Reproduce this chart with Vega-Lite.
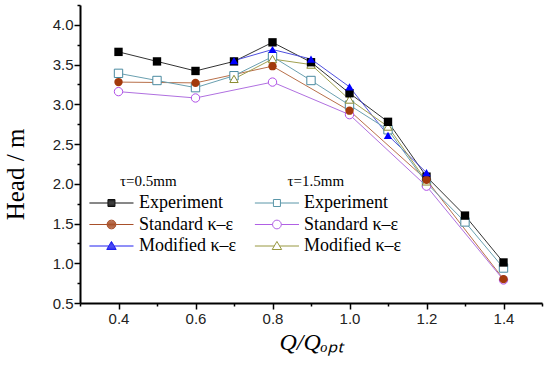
{
  "$schema": "https://vega.github.io/schema/vega-lite/v6.json",
  "width": 462,
  "height": 298,
  "autosize": {"type": "none"},
  "padding": {"left": 80, "top": 5, "right": 8, "bottom": 66},
  "background": "white",
  "config": {
    "view": {"stroke": null},
    "axis": {
      "grid": false,
      "domainColor": "black",
      "domainWidth": 2,
      "tickColor": "black",
      "tickWidth": 1.5,
      "labelFont": "Liberation Sans",
      "labelFontSize": 15,
      "labelColor": "#222222",
      "titleFont": "Liberation Serif",
      "titleFontWeight": "normal",
      "titleColor": "black"
    },
    "legend": {
      "orient": "none",
      "padding": 0,
      "titleFont": "Liberation Serif",
      "titleFontSize": 15,
      "titleFontWeight": "normal",
      "titleColor": "black",
      "titlePadding": 5,
      "labelFont": "Liberation Serif",
      "labelFontSize": 18,
      "labelColor": "black",
      "rowPadding": 3.5,
      "symbolSize": 49,
      "symbolStrokeWidth": 1
    }
  },
  "data": {
    "values": [
      {"tau": "0.5", "model": "Experiment", "q": 0.4, "head": 3.66},
      {"tau": "0.5", "model": "Experiment", "q": 0.5, "head": 3.54},
      {"tau": "0.5", "model": "Experiment", "q": 0.6, "head": 3.42},
      {"tau": "0.5", "model": "Experiment", "q": 0.7, "head": 3.54},
      {"tau": "0.5", "model": "Experiment", "q": 0.8, "head": 3.78},
      {"tau": "0.5", "model": "Experiment", "q": 0.9, "head": 3.53},
      {"tau": "0.5", "model": "Experiment", "q": 1.0, "head": 3.14},
      {"tau": "0.5", "model": "Experiment", "q": 1.1, "head": 2.78},
      {"tau": "0.5", "model": "Experiment", "q": 1.2, "head": 2.09},
      {"tau": "0.5", "model": "Experiment", "q": 1.3, "head": 1.6},
      {"tau": "0.5", "model": "Experiment", "q": 1.4, "head": 1.01},
      {"tau": "0.5", "model": "Standard κ–ε", "q": 0.4, "head": 3.28},
      {"tau": "0.5", "model": "Standard κ–ε", "q": 0.6, "head": 3.27},
      {"tau": "0.5", "model": "Standard κ–ε", "q": 0.8, "head": 3.48},
      {"tau": "0.5", "model": "Standard κ–ε", "q": 1.0, "head": 2.92},
      {"tau": "0.5", "model": "Standard κ–ε", "q": 1.2, "head": 2.05},
      {"tau": "0.5", "model": "Standard κ–ε", "q": 1.4, "head": 0.8},
      {"tau": "0.5", "model": "Modified κ–ε", "q": 0.7, "head": 3.55},
      {"tau": "0.5", "model": "Modified κ–ε", "q": 0.8, "head": 3.69},
      {"tau": "0.5", "model": "Modified κ–ε", "q": 0.9, "head": 3.57},
      {"tau": "0.5", "model": "Modified κ–ε", "q": 1.0, "head": 3.22},
      {"tau": "0.5", "model": "Modified κ–ε", "q": 1.1, "head": 2.61},
      {"tau": "0.5", "model": "Modified κ–ε", "q": 1.2, "head": 2.14},
      {"tau": "1.5", "model": "Experiment", "q": 0.4, "head": 3.39},
      {"tau": "1.5", "model": "Experiment", "q": 0.5, "head": 3.3},
      {"tau": "1.5", "model": "Experiment", "q": 0.6, "head": 3.21},
      {"tau": "1.5", "model": "Experiment", "q": 0.7, "head": 3.36},
      {"tau": "1.5", "model": "Experiment", "q": 0.8, "head": 3.6},
      {"tau": "1.5", "model": "Experiment", "q": 0.9, "head": 3.3},
      {"tau": "1.5", "model": "Experiment", "q": 1.0, "head": 2.99},
      {"tau": "1.5", "model": "Experiment", "q": 1.1, "head": 2.68},
      {"tau": "1.5", "model": "Experiment", "q": 1.2, "head": 2.01},
      {"tau": "1.5", "model": "Experiment", "q": 1.3, "head": 1.52},
      {"tau": "1.5", "model": "Experiment", "q": 1.4, "head": 0.94},
      {"tau": "1.5", "model": "Standard κ–ε", "q": 0.4, "head": 3.16},
      {"tau": "1.5", "model": "Standard κ–ε", "q": 0.6, "head": 3.08},
      {"tau": "1.5", "model": "Standard κ–ε", "q": 0.8, "head": 3.28},
      {"tau": "1.5", "model": "Standard κ–ε", "q": 1.0, "head": 2.87},
      {"tau": "1.5", "model": "Standard κ–ε", "q": 1.2, "head": 1.97},
      {"tau": "1.5", "model": "Standard κ–ε", "q": 1.4, "head": 0.79},
      {"tau": "1.5", "model": "Modified κ–ε", "q": 0.7, "head": 3.32},
      {"tau": "1.5", "model": "Modified κ–ε", "q": 0.8, "head": 3.57},
      {"tau": "1.5", "model": "Modified κ–ε", "q": 0.9, "head": 3.5},
      {"tau": "1.5", "model": "Modified κ–ε", "q": 1.0, "head": 3.06},
      {"tau": "1.5", "model": "Modified κ–ε", "q": 1.1, "head": 2.72},
      {"tau": "1.5", "model": "Modified κ–ε", "q": 1.2, "head": 2.03}
    ]
  },
  "encoding": {
    "x": {
      "field": "q",
      "type": "quantitative",
      "scale": {"domain": [0.3, 1.5], "nice": false, "zero": false},
      "axis": {
        "values": [0.3, 0.4, 0.5, 0.6, 0.7, 0.8, 0.9, 1.0, 1.1, 1.2, 1.3, 1.4, 1.5],
        "labelExpr": "(round(datum.value*10)%2==0 && datum.value>0.35 && datum.value<1.45) ? format(datum.value, '.1f') : ''",
        "tickSize": {"condition": {"test": "round(datum.value*10)%2==0", "value": 6}, "value": 3},
        "labelPadding": 2,
        "labelFlush": false,
        "title": "Q/Qₒₚₜ",
        "titleFontSize": 24,
        "titleFontStyle": "italic",
        "titlePadding": 4
      }
    },
    "y": {
      "field": "head",
      "type": "quantitative",
      "scale": {"domain": [0.5, 4.25], "nice": false, "zero": false},
      "axis": {
        "values": [0.5, 0.75, 1.0, 1.25, 1.5, 1.75, 2.0, 2.25, 2.5, 2.75, 3.0, 3.25, 3.5, 3.75, 4.0, 4.25],
        "labelExpr": "(round(datum.value*4)%2==0 && datum.value<4.1) ? format(datum.value, '.1f') : ''",
        "tickSize": {"condition": {"test": "round(datum.value*4)%2==0", "value": 6}, "value": 3},
        "labelPadding": 1,
        "labelFlush": false,
        "title": "Head / m",
        "titleFontSize": 25,
        "titleX": -57,
        "titleY": 169,
        "titleBaseline": "alphabetic"
      }
    }
  },
  "layer": [
    {
      "transform": [{"filter": "datum.tau == '0.5'"}],
      "mark": {"type": "line", "strokeWidth": 1},
      "encoding": {
        "color": {
          "field": "model", "type": "nominal",
          "scale": {"domain": ["Experiment", "Standard κ–ε", "Modified κ–ε"], "range": ["#333333", "#b8704a", "#5050e0"]},
          "legend": null
        }
      }
    },
    {
      "transform": [{"filter": "datum.tau == '1.5'"}],
      "mark": {"type": "line", "strokeWidth": 1},
      "encoding": {
        "color": {
          "field": "model", "type": "nominal",
          "scale": {"domain": ["Experiment", "Standard κ–ε", "Modified κ–ε"], "range": ["#6aa0b0", "#b070e0", "#a0a050"]},
          "legend": null
        }
      }
    },
    {
      "transform": [{"filter": "datum.tau == '1.5'"}],
      "mark": {"type": "point", "fill": "white", "fillOpacity": 1, "strokeWidth": 1, "size": 70, "opacity": 1},
      "encoding": {
        "stroke": {
          "field": "model", "type": "nominal",
          "scale": {"domain": ["Experiment", "Standard κ–ε", "Modified κ–ε"], "range": ["#4a8aa0", "#b050e8", "#8c8c30"]},
          "legend": null
        },
        "shape": {
          "field": "model", "type": "nominal",
          "scale": {"domain": ["Experiment", "Standard κ–ε", "Modified κ–ε"], "range": ["square", "circle", "triangle-up"]},
          "legend": null
        }
      }
    },
    {
      "transform": [{"filter": "datum.tau == '0.5'"}],
      "mark": {"type": "point", "filled": true, "strokeWidth": 1, "size": 70, "opacity": 1},
      "encoding": {
        "color": {
          "field": "model", "type": "nominal",
          "scale": {"domain": ["Experiment", "Standard κ–ε", "Modified κ–ε"], "range": ["#000000", "#a33a0c", "#0000ff"]},
          "legend": null
        },
        "shape": {
          "field": "model", "type": "nominal",
          "scale": {"domain": ["Experiment", "Standard κ–ε", "Modified κ–ε"], "range": ["square", "circle", "triangle-up"]},
          "legend": null
        }
      }
    },
    {
      "transform": [{"filter": "datum.tau == '0.5'"}],
      "mark": {"type": "point", "filled": false, "opacity": 0},
      "encoding": {
        "color": {
          "field": "model", "type": "nominal",
          "scale": {"domain": ["Experiment", "Standard κ–ε", "Modified κ–ε"], "range": ["#111111", "#a8502a", "#2020f0"]},
          "legend": {"title": "τ=0.5mm", "legendX": 40, "legendY": 169, "labelOffset": 1}
        },
        "shape": {
          "field": "model", "type": "nominal",
          "scale": {"domain": ["Experiment", "Standard κ–ε", "Modified κ–ε"], "range": [
            "M-11.31,0H-6.01M-4.01,0H1.29M-6.01,-1H-4.01V1H-6.01ZM-6.01,-0.75H-4.01M-6.01,-0.5H-4.01M-6.01,-0.25H-4.01M-6.01,0H-4.01M-6.01,0.25H-4.01M-6.01,0.5H-4.01M-6.01,0.75H-4.01",
            "M-11.31,0H-6.26M-3.76,0H1.29M-6.26,0A1.25,1.25,0,1,1,-3.76,0A1.25,1.25,0,1,1,-6.26,0ZM-5.76,-1H-4.26M-6.01,-0.75H-4.01M-6.16,-0.5H-3.86M-6.23,-0.25H-3.79M-6.26,0H-3.76M-6.23,0.25H-3.79M-6.16,0.5H-3.86M-6.01,0.75H-4.01M-5.76,1H-4.26",
            "M-11.31,0H-5.77M-4.25,0H1.29M-5.01,-1.3L-3.66,1H-6.36ZM-5.19,-1H-4.83M-5.33,-0.75H-4.69M-5.48,-0.5H-4.54M-5.63,-0.25H-4.39M-5.77,0H-4.25M-5.92,0.25H-4.1M-6.07,0.5H-3.95M-6.21,0.75H-3.81"
          ]},
          "legend": {"title": "τ=0.5mm", "legendX": 40, "legendY": 169, "labelOffset": 1}
        }
      }
    },
    {
      "transform": [{"filter": "datum.tau == '1.5'"}],
      "mark": {"type": "point", "filled": false, "opacity": 0},
      "encoding": {
        "color": {
          "field": "model", "type": "nominal",
          "scale": {"domain": ["Experiment", "Standard κ–ε", "Modified κ–ε"], "range": ["#5a96a8", "#b060e4", "#989840"]},
          "legend": {"title": "τ=1.5mm", "legendX": 207.5, "legendY": 169, "labelOffset": -1.5}
        },
        "shape": {
          "field": "model", "type": "nominal",
          "scale": {"domain": ["Experiment", "Standard κ–ε", "Modified κ–ε"], "range": [
            "M-11.89,0H-6.59M-4.59,0H0.71M-6.59,-1H-4.59V1H-6.59Z",
            "M-11.89,0H-6.84M-4.34,0H0.71M-6.84,0A1.25,1.25,0,1,1,-4.34,0A1.25,1.25,0,1,1,-6.84,0Z",
            "M-11.89,0H-6.35M-4.83,0H0.71M-5.59,-1.3L-4.24,1H-6.94Z"
          ]},
          "legend": {"title": "τ=1.5mm", "legendX": 207.5, "legendY": 169, "labelOffset": -1.5}
        }
      }
    }
  ],
  "resolve": {
    "scale": {"color": "independent", "shape": "independent", "stroke": "independent"},
    "legend": {"color": "independent", "shape": "independent", "stroke": "independent"}
  }
}
